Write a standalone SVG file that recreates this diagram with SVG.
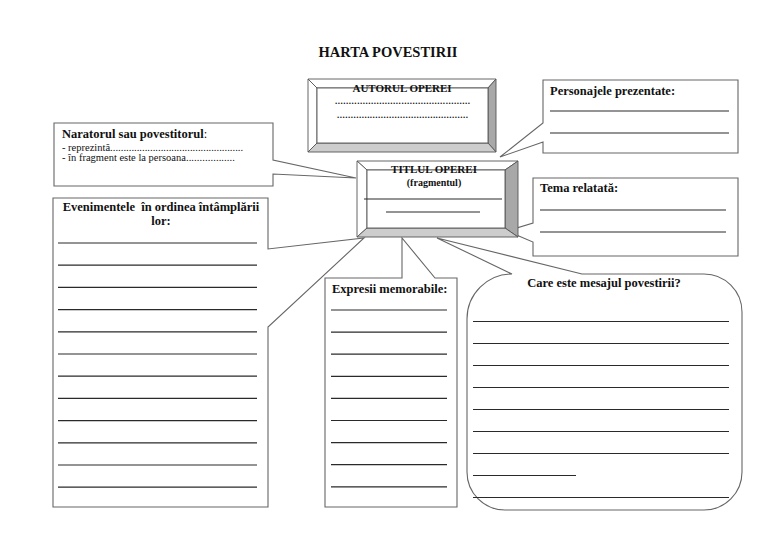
<svg xmlns="http://www.w3.org/2000/svg" width="768" height="543" viewBox="0 0 768 543" font-family="'Liberation Serif', 'Times New Roman', Tinos, 'DejaVu Serif', serif">
<style>
text{font-family:"Liberation Serif","Times New Roman",Tinos,"DejaVu Serif",serif;fill:#111}
.b{font-weight:bold}
.h{font-size:12.5px;font-weight:bold}
.box{fill:#fff;stroke:#666;stroke-width:1.1}
.ln{stroke:#2a2a2a;stroke-width:1.2}
.bv{stroke:#555;stroke-width:0.9}
.lt{fill:#fff}
.rt{fill:#a8a8a8}
.bt{fill:#cdcdcd}
</style>
<rect width="768" height="543" fill="#fff"/>
<text class="b" x="388" y="57" font-size="14.5" text-anchor="middle">HARTA POVESTIRII</text>

<g id="connectors" fill="none" stroke="#555" stroke-width="1">
</g>

<g id="narator">
<path class="box" d="M54,123 H273 V160 L356,178 L273,174 V186 H54 Z"/>
<text class="h" x="62" y="138">Naratorul sau povestitorul<tspan font-weight="normal">:</tspan></text>
<text x="62" y="151" font-size="10.5">- reprezintă<tspan textLength="133" lengthAdjust="spacing">..................................................</tspan></text>
<text x="62" y="161" font-size="10.5">- în fragment este la persoana<tspan textLength="49" lengthAdjust="spacing">..................</tspan></text>
</g>

<g id="personaje">
<path class="box" d="M543,80 H738 V153 H543 V142 L500,157 L543,123 Z"/>
<text class="h" x="550" y="95">Personajele prezentate:</text>
<line class="ln" x1="550" y1="111" x2="729" y2="111"/>
<line class="ln" x1="550" y1="133" x2="729" y2="133"/>
</g>

<g id="tema">
<path class="box" d="M533,178 H738 V256 H533 V242 L507,231 L533,223 Z"/>
<text class="h" x="540" y="192">Tema relatată:</text>
<line class="ln" x1="540" y1="210" x2="726" y2="210"/>
<line class="ln" x1="540" y1="232" x2="726" y2="232"/>
</g>

<g id="evenimente">
<path class="box" d="M53,198 H268 V249 L364,238 L268,327 V507 H53 Z"/>
<text class="h" x="161" y="211" text-anchor="middle" xml:space="preserve">Evenimentele  în ordinea întâmplării</text>
<text class="h" x="161" y="225" text-anchor="middle">lor:</text>
<g class="ln">
<line x1="58" y1="243" x2="257" y2="243"/>
<line x1="58" y1="265.2" x2="257" y2="265.2"/>
<line x1="58" y1="287.4" x2="257" y2="287.4"/>
<line x1="58" y1="309.6" x2="257" y2="309.6"/>
<line x1="58" y1="331.8" x2="257" y2="331.8"/>
<line x1="58" y1="354" x2="257" y2="354"/>
<line x1="58" y1="376.2" x2="257" y2="376.2"/>
<line x1="58" y1="398.4" x2="257" y2="398.4"/>
<line x1="58" y1="420.6" x2="257" y2="420.6"/>
<line x1="58" y1="442.8" x2="257" y2="442.8"/>
<line x1="58" y1="465" x2="257" y2="465"/>
<line x1="58" y1="487.2" x2="257" y2="487.2"/>
</g>
</g>

<g id="expresii">
<path class="box" d="M325,278 H402 L402,238 L435,278 H457 V507 H325 Z"/>
<text class="h" x="332" y="293">Expresii memorabile:</text>
<g class="ln">
<line x1="331" y1="310" x2="447" y2="310"/>
<line x1="331" y1="332.1" x2="447" y2="332.1"/>
<line x1="331" y1="354.2" x2="447" y2="354.2"/>
<line x1="331" y1="376.3" x2="447" y2="376.3"/>
<line x1="331" y1="398.4" x2="447" y2="398.4"/>
<line x1="331" y1="420.5" x2="447" y2="420.5"/>
<line x1="331" y1="442.6" x2="447" y2="442.6"/>
<line x1="331" y1="464.7" x2="447" y2="464.7"/>
<line x1="331" y1="486.8" x2="447" y2="486.8"/>
</g>
</g>

<g id="mesaj">
<path class="box" d="M512,274 L437,238 L582,274 H704 A38,38 0 0 1 742,312 V472 A38,38 0 0 1 704,510 H505 A38,38 0 0 1 467,472 V319 A45,45 0 0 1 512,274 Z"/>
<text class="h" x="604" y="287" text-anchor="middle">Care este mesajul povestirii?</text>
<g class="ln">
<line x1="473" y1="321.5" x2="729" y2="321.5"/>
<line x1="473" y1="343.5" x2="729" y2="343.5"/>
<line x1="473" y1="365.5" x2="729" y2="365.5"/>
<line x1="473" y1="387.5" x2="729" y2="387.5"/>
<line x1="473" y1="409.5" x2="729" y2="409.5"/>
<line x1="473" y1="431.5" x2="729" y2="431.5"/>
<line x1="473" y1="453.5" x2="729" y2="453.5"/>
<line x1="473" y1="475.5" x2="576" y2="475.5"/>
<line x1="473" y1="497.5" x2="729" y2="497.5"/>
</g>
</g>

<g id="autor">
<polygon class="bv lt" points="308,79 496,79 488,88 317,88"/>
<polygon class="bv lt" points="308,79 317,88 317,143 308,152"/>
<polygon class="bv rt" points="496,79 496,152 488,143 488,88"/>
<polygon class="bv bt" points="308,152 496,152 488,143 317,143"/>
<rect class="bv" x="317" y="88" width="171" height="55" fill="#fff"/>
<text class="b" x="402" y="92" font-size="11" text-anchor="middle">AUTORUL OPEREI</text>
<text class="b" x="335" y="104" font-size="9" textLength="135" lengthAdjust="spacing">.................................................</text>
<text class="b" x="337" y="118" font-size="9" textLength="131" lengthAdjust="spacing">................................................</text>
</g>

<g id="titlul">
<polygon class="bv lt" points="357,161 518,161 505,170 367,170"/>
<polygon class="bv lt" points="357,161 367,170 367,228 357,237"/>
<polygon class="bv rt" points="518,161 518,237 505,228 505,170"/>
<polygon class="bv bt" points="357,237 518,237 505,228 367,228"/>
<rect class="bv" x="367" y="170" width="138" height="58" fill="#fff"/>
<text class="b" x="434" y="173" font-size="11" text-anchor="middle">TITLUL OPEREI</text>
<text class="b" x="434" y="185.5" font-size="10" text-anchor="middle">(fragmentul)</text>
<line class="ln" x1="364" y1="199" x2="502" y2="199"/>
<line class="ln" x1="386" y1="212" x2="480" y2="212"/>
</g>
</svg>
